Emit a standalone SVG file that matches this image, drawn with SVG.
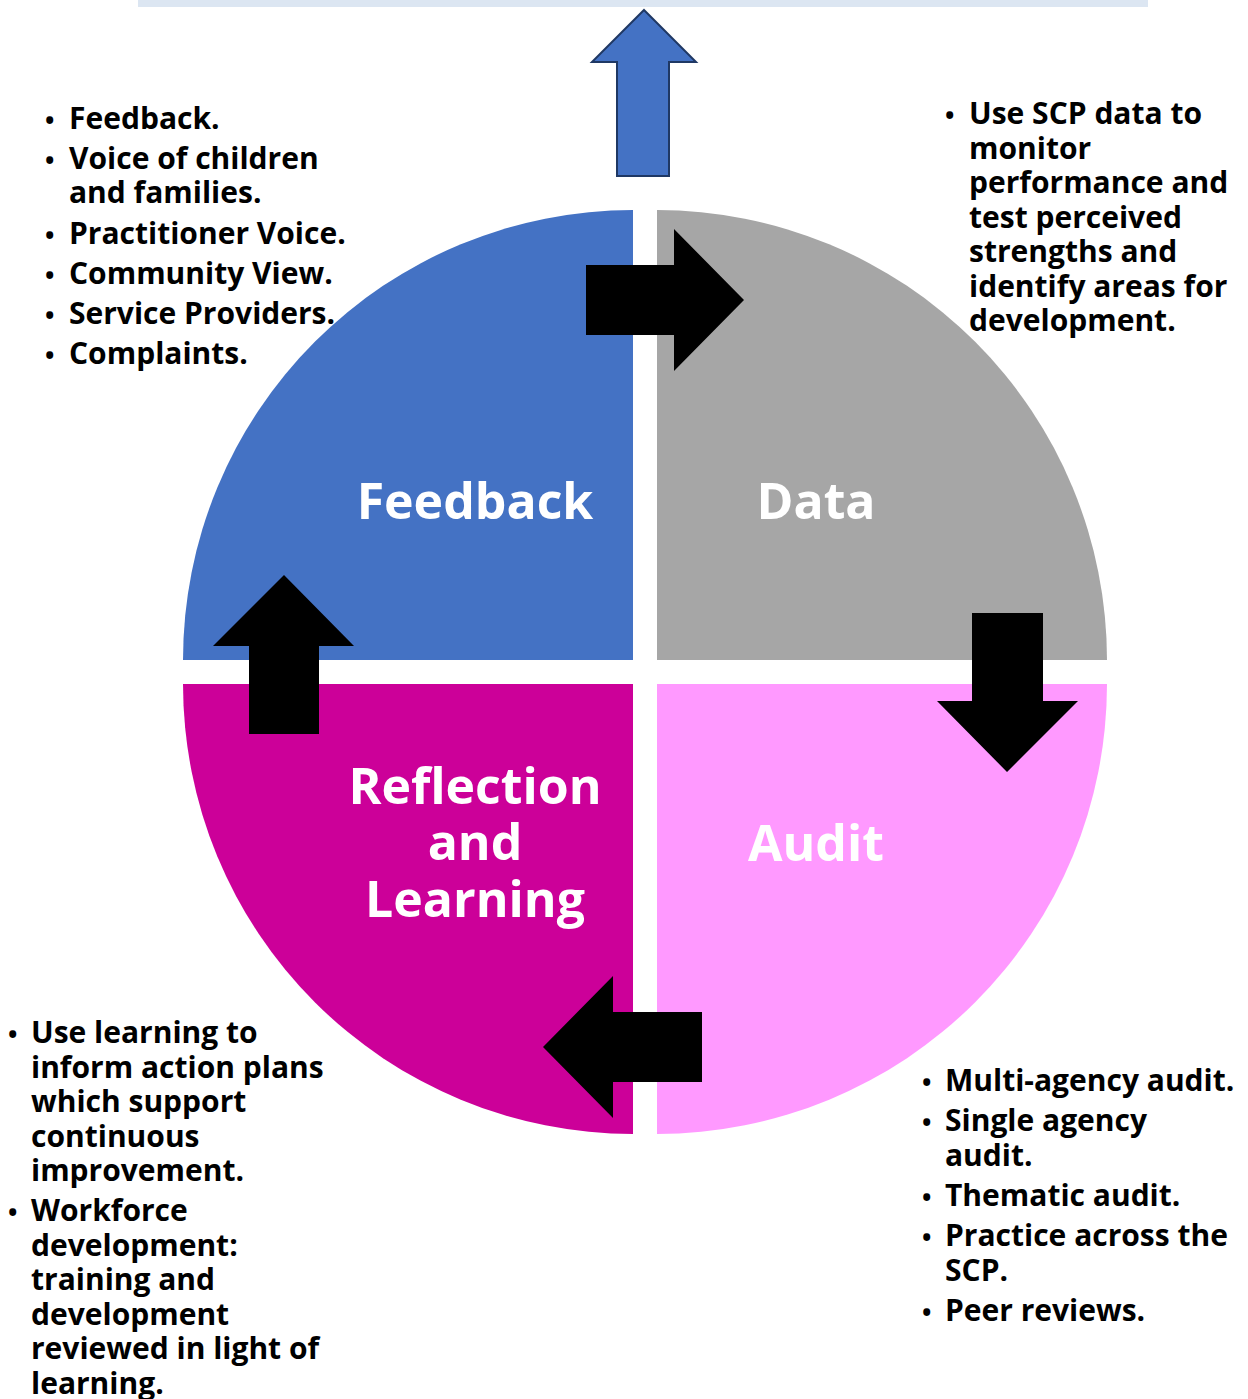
<svg xmlns="http://www.w3.org/2000/svg" width="1248" height="1399" viewBox="0 0 1248 1399">
  <style>
    .note { font-family: "Open Sans", "Noto Sans", "DejaVu Sans", sans-serif; font-weight: 700; font-size: 30px; fill: #000; }
    .bul { font-size: 25px; }
    .label { font-family: "Open Sans", "Noto Sans", "DejaVu Sans", sans-serif; font-weight: 700; font-size: 50px; fill: #fff; text-anchor: middle; }
    .arrow { fill: #000; }
  </style>
  <rect width="1248" height="1399" fill="#fff"/>

  <!-- banner strip along the top edge -->
  <rect x="138" y="0" width="1010" height="7" fill="#dce6f2"/>

  <!-- outgoing arrow towards the banner -->
  <polygon points="644,10 696,62 669,62 669,176 617,176 617,62 592,62" fill="#4472c4" stroke="#1f3864" stroke-width="2" stroke-linejoin="miter"/>

  <!-- quadrants -->
  <g id="feedback">
    <path d="M633,660 L183,660 A450,450 0 0 1 633,210 Z" fill="#4472c4"/>
    <text class="label" x="475" y="519">Feedback</text>
  </g>
  <g id="data">
    <path d="M657,660 L657,210 A450,450 0 0 1 1107,660 Z" fill="#a6a6a6"/>
    <text class="label" x="816" y="519">Data</text>
  </g>
  <g id="audit">
    <path d="M657,684 L1107,684 A450,450 0 0 1 657,1134 Z" fill="#ff99ff"/>
    <text class="label" x="816" y="861">Audit</text>
  </g>
  <g id="reflection">
    <path d="M633,684 L633,1134 A450,450 0 0 1 183,684 Z" fill="#cc0099"/>
    <text class="label" x="475" y="804">Reflection<tspan x="475" dy="56">and</tspan><tspan x="475" dy="57">Learning</tspan></text>
  </g>

  <!-- cycle arrows -->
  <g id="connectors">
    <polygon class="arrow" points="586,265 674,265 674,229 744,300 674,371 674,335 586,335"/>
    <polygon class="arrow" points="972,613 1043,613 1043,701 1078,701 1007,772 937,701 972,701"/>
    <polygon class="arrow" points="702,1012 702,1082 613,1082 613,1118 543,1047 613,976 613,1012"/>
    <polygon class="arrow" points="249,734 249,646 213,646 284,575 354,646 319,646 319,734"/>
  </g>

  <!-- feedback notes -->
  <g id="notes-feedback">
    <text class="note" y="129"><tspan class="bul" x="45">•</tspan><tspan x="69">Feedback.</tspan></text>
    <text class="note" y="169"><tspan class="bul" x="45">•</tspan><tspan x="69">Voice of children</tspan><tspan x="69" dy="34">and families.</tspan></text>
    <text class="note" y="244"><tspan class="bul" x="45">•</tspan><tspan x="69">Practitioner Voice.</tspan></text>
    <text class="note" y="284"><tspan class="bul" x="45">•</tspan><tspan x="69">Community View.</tspan></text>
    <text class="note" y="324"><tspan class="bul" x="45">•</tspan><tspan x="69">Service Providers.</tspan></text>
    <text class="note" y="364"><tspan class="bul" x="45">•</tspan><tspan x="69">Complaints.</tspan></text>
  </g>

  <!-- data notes -->
  <g id="notes-data">
    <text class="note" y="124"><tspan class="bul" x="945">•</tspan><tspan x="969">Use SCP data to</tspan><tspan x="969" dy="34.5">monitor</tspan><tspan x="969" dy="34.5">performance and</tspan><tspan x="969" dy="34.5">test perceived</tspan><tspan x="969" dy="34.5">strengths and</tspan><tspan x="969" dy="34.5">identify areas for</tspan><tspan x="969" dy="34.5">development.</tspan></text>
  </g>

  <!-- reflection notes -->
  <g id="notes-reflection">
    <text class="note" y="1043"><tspan class="bul" x="8">•</tspan><tspan x="31">Use learning to</tspan><tspan x="31" dy="34.5">inform action plans</tspan><tspan x="31" dy="34.5">which support</tspan><tspan x="31" dy="34.5">continuous</tspan><tspan x="31" dy="34.5">improvement.</tspan></text>
    <text class="note" y="1221"><tspan class="bul" x="8">•</tspan><tspan x="31">Workforce</tspan><tspan x="31" dy="34.5">development:</tspan><tspan x="31" dy="34.5">training and</tspan><tspan x="31" dy="34.5">development</tspan><tspan x="31" dy="34.5">reviewed in light of</tspan><tspan x="31" dy="34.5">learning.</tspan></text>
  </g>

  <!-- audit notes -->
  <g id="notes-audit">
    <text class="note" y="1091"><tspan class="bul" x="922">•</tspan><tspan x="945">Multi-agency audit.</tspan></text>
    <text class="note" y="1131"><tspan class="bul" x="922">•</tspan><tspan x="945">Single agency</tspan><tspan x="945" dy="35">audit.</tspan></text>
    <text class="note" y="1206"><tspan class="bul" x="922">•</tspan><tspan x="945">Thematic audit.</tspan></text>
    <text class="note" y="1246"><tspan class="bul" x="922">•</tspan><tspan x="945">Practice across the</tspan><tspan x="945" dy="35">SCP.</tspan></text>
    <text class="note" y="1321"><tspan class="bul" x="922">•</tspan><tspan x="945">Peer reviews.</tspan></text>
  </g>
</svg>
